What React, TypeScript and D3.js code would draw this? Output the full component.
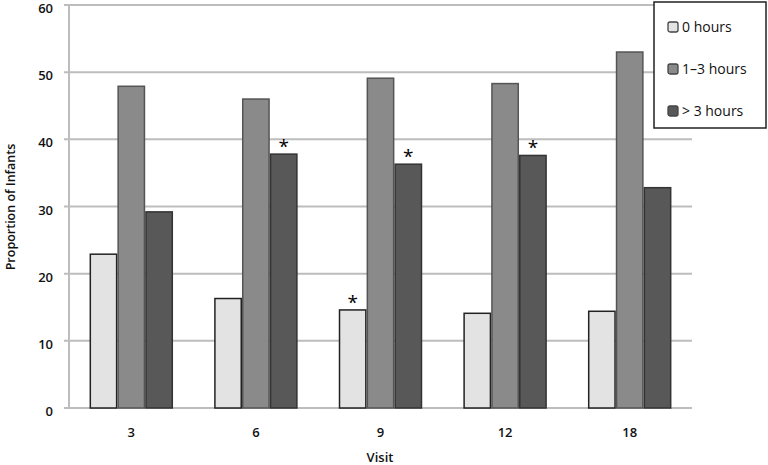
import React, { useEffect, useRef } from "react";
import * as d3 from "d3";

const visits = ["3", "6", "9", "12", "18"];
const seriesNames = ["0 hours", "1\u20133 hours", "> 3 hours"];
const zeroHours = [22.9, 16.3, 14.6, 14.1, 14.4];
const oneToThree = [47.9, 46.0, 49.1, 48.3, 53.0];
const overThree = [29.2, 37.8, 36.3, 37.6, 32.8];
// which bars carry a significance star: [visit index, series index]
const starred = [[1, 2], [2, 0], [2, 2], [3, 2]];
const yTicks = [0, 10, 20, 30, 40, 50, 60];

const fills = ["#e3e3e3", "#8a8a8a", "#585858"];
const strokes = ["#222", "#555", "#333"];

export default function App() {
  const ref = useRef<SVGSVGElement>(null);

  useEffect(() => {
    const svg = d3.select(ref.current);
    svg.selectAll("*").remove();

    const font = "'Open Sans', sans-serif";
    const values = [zeroHours, oneToThree, overThree];

    const x0 = d3.scaleBand().domain(visits).range([69, 692]).paddingInner(0.33).paddingOuter(0.165);
    const x1 = d3.scaleBand().domain(d3.range(3).map(String)).range([0, x0.bandwidth()]);
    const y = d3.scaleLinear().domain([0, 60]).range([408, 5]);

    // gridlines
    svg.append("g")
      .selectAll("line")
      .data(yTicks)
      .join("line")
      .attr("x1", 64)
      .attr("x2", 692)
      .attr("y1", (d) => y(d))
      .attr("y2", (d) => y(d))
      .attr("stroke", "#bdbdbd")
      .attr("stroke-width", 2);

    // y axis line
    svg.append("line")
      .attr("x1", 69).attr("x2", 69)
      .attr("y1", y(60)).attr("y2", y(0) + 1)
      .attr("stroke", "#bdbdbd").attr("stroke-width", 2);

    // tick labels
    svg.append("g")
      .selectAll("text")
      .data(yTicks)
      .join("text")
      .attr("x", 53)
      .attr("y", (d) => y(d) + 8)
      .attr("text-anchor", "end")
      .attr("font-family", font)
      .attr("font-size", 13)
      .attr("font-weight", 600)
      .attr("fill", "#111")
      .text((d) => d);

    // bars
    const groups = svg.append("g")
      .selectAll("g")
      .data(visits)
      .join("g")
      .attr("transform", (d) => `translate(${x0(d)},0)`);

    groups.selectAll("rect")
      .data((_, i) => values.map((s, k) => ({ k, v: s[i] })))
      .join("rect")
      .attr("x", (d) => x1(String(d.k))! + 0.75)
      .attr("width", x1.bandwidth() - 1.5)
      .attr("y", (d) => y(d.v))
      .attr("height", (d) => y(0) - y(d.v))
      .attr("fill", (d) => fills[d.k])
      .attr("stroke", (d) => strokes[d.k])
      .attr("stroke-width", 1.5);

    // stars
    svg.append("g")
      .selectAll("text")
      .data(starred)
      .join("text")
      .attr("x", (d) => x0(visits[d[0]])! + x1(String(d[1]))! + x1.bandwidth() / 2)
      .attr("y", (d) => y(values[d[1]][d[0]]) - 1)
      .attr("text-anchor", "middle")
      .attr("font-family", font)
      .attr("font-size", 19)
      .attr("fill", "#000")
      .text("*");

    // x labels
    svg.append("g")
      .selectAll("text")
      .data(visits)
      .join("text")
      .attr("x", (d) => x0(d)! + x0.bandwidth() / 2)
      .attr("y", 437)
      .attr("text-anchor", "middle")
      .attr("font-family", font)
      .attr("font-size", 13)
      .attr("font-weight", 600)
      .attr("fill", "#111")
      .text((d) => d);

    svg.append("text")
      .attr("x", 380).attr("y", 462)
      .attr("text-anchor", "middle")
      .attr("font-family", font).attr("font-size", 13).attr("font-weight", 600)
      .attr("fill", "#111")
      .text("Visit");

    svg.append("text")
      .attr("transform", "translate(15,207) rotate(-90)")
      .attr("text-anchor", "middle")
      .attr("font-family", font).attr("font-size", 12.5).attr("font-weight", 600)
      .attr("fill", "#111")
      .text("Proportion of Infants");

    // legend
    const lg = svg.append("g");
    lg.append("rect")
      .attr("x", 654).attr("y", 2).attr("width", 112).attr("height", 126)
      .attr("fill", "#fff").attr("stroke", "#222").attr("stroke-width", 1.5);
    const rows = lg.selectAll("g.row")
      .data(seriesNames)
      .join("g")
      .attr("class", "row")
      .attr("transform", (_, i) => `translate(668,${27 + i * 42})`);
    rows.append("rect")
      .attr("x", 0).attr("y", -5).attr("width", 10).attr("height", 10)
      .attr("rx", 2)
      .attr("fill", (_, i) => fills[i])
      .attr("stroke", "#444").attr("stroke-width", 1.3);
    rows.append("text")
      .attr("x", 14).attr("y", 5)
      .attr("font-family", font).attr("font-size", 14)
      .attr("fill", "#111")
      .text((d) => d);
  }, []);

  return (
    <svg
      ref={ref}
      width={768}
      height={465}
      style={{ position: "absolute", left: 0, top: 0, display: "block", background: "#fff" }}
    />
  );
}
